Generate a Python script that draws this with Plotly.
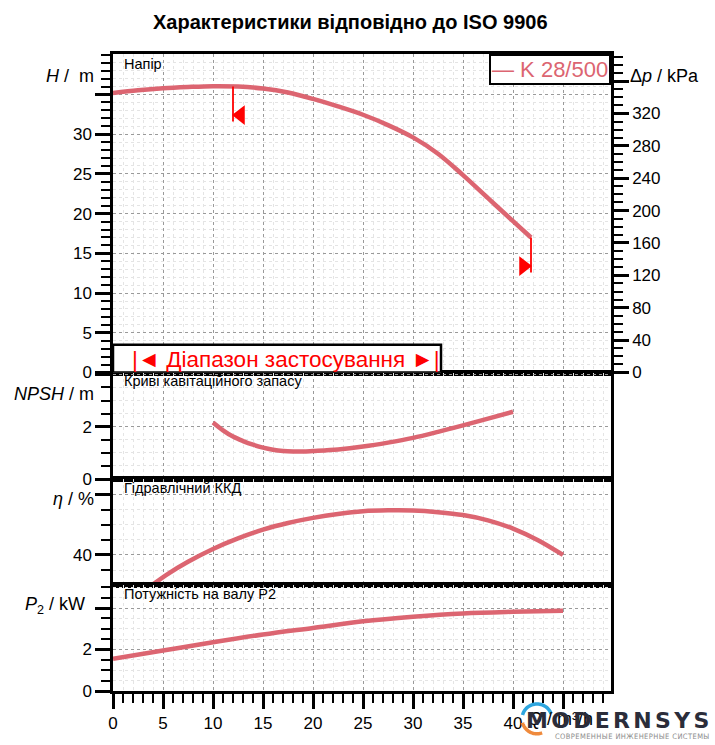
import numpy as np
import plotly.graph_objects as go

# ---------------- data ----------------
Q_H = [0, 2.5, 5, 7.5, 10, 12.5, 15, 17.5, 20, 22.5, 25, 27.5, 30, 32.5, 35, 37.5, 40, 41.8]
H = [35.2, 35.55, 35.8, 35.95, 36.05, 36.0, 35.75, 35.25, 34.45, 33.5, 32.45, 31.15,
     29.6, 27.55, 24.85, 21.95, 19.05, 17.0]

Q_NPSH = [10, 11, 12, 13, 14, 15, 16, 17, 18, 19, 20, 22.5, 25, 27.5, 30, 32.5, 35, 37.5, 40]
NPSH = [2.16, 1.86, 1.62, 1.45, 1.31, 1.20, 1.12, 1.07, 1.05, 1.05, 1.07, 1.13, 1.24,
        1.39, 1.57, 1.80, 2.05, 2.31, 2.57]

Q_ETA = [4, 5.5, 7.5, 10, 12.5, 15, 17.5, 20, 22.5, 25, 27.5, 30, 32.5, 35, 37.5, 40, 42.5, 45]
ETA = [20.5, 27.5, 35.5, 44.0, 51.0, 56.8, 61.2, 64.6, 67.2, 69.0, 69.6, 69.5,
       68.4, 66.5, 63.0, 57.5, 49.8, 40.0]

Q_P2 = [0, 5, 10, 15, 20, 25, 30, 35, 40, 45]
P2 = [1.55, 1.95, 2.35, 2.72, 3.04, 3.36, 3.58, 3.74, 3.82, 3.87]

SERIES_NAME = "K 28/500"
Q_LIMIT_MIN = 12.0   # left limit of the operating range
Q_LIMIT_MAX = 41.8   # right limit of the operating range
KPA_PER_M = 9.81

X_TICKS = [0, 5, 10, 15, 20, 25, 30, 35, 40, 45]
X_LABELS = ["0", "5", "10", "15", "20", "25", "30", "35", "40", ""]
H_TICKS = [0, 5, 10, 15, 20, 25, 30, 35]
H_LABELS = ["0", "5", "10", "15", "20", "25", "30", ""]
KPA_TICKS = [0, 40, 80, 120, 160, 200, 240, 280, 320, 360]
KPA_LABELS = ["0", "40", "80", "120", "160", "200", "240", "280", "320", ""]
NPSH_TICKS = [0, 2, 4]
NPSH_LABELS = ["0", "2", ""]
ETA_TICKS = [40, 80]
ETA_LABELS = ["40", ""]
P2_TICKS = [0, 2, 4]
P2_LABELS = ["0", "2", ""]

# ---------------- style ----------------
CURVE = "#dc6571"
RED = "#ff0000"
FONT = "Liberation Sans, Arial, sans-serif"
W, HGT = 715, 745
L, R, T, B = 113, 104, 54, 51

def px(xp):
    return (xp - L) / (W - L - R)

def py(yp):
    return (HGT - B - yp) / (HGT - T - B)

fig = go.Figure()

line_style = dict(color=CURVE, width=4.5)
fig.add_trace(go.Scatter(x=Q_H, y=H, mode="lines", line=line_style, name=SERIES_NAME,
                         line_shape="spline", xaxis="x", yaxis="y", hoverinfo="skip"))
fig.add_trace(go.Scatter(x=Q_H, y=[h * KPA_PER_M for h in H], mode="lines",
                         line=dict(width=0, color=CURVE), opacity=0, showlegend=False,
                         xaxis="x", yaxis="y5", hoverinfo="skip"))
fig.add_trace(go.Scatter(x=Q_NPSH, y=NPSH, mode="lines", line=line_style, line_shape="spline",
                         xaxis="x2", yaxis="y2", hoverinfo="skip"))
fig.add_trace(go.Scatter(x=Q_ETA, y=ETA, mode="lines", line=line_style, line_shape="spline",
                         xaxis="x3", yaxis="y3", hoverinfo="skip"))
fig.add_trace(go.Scatter(x=Q_P2, y=P2, mode="lines", line=line_style, line_shape="spline",
                         xaxis="x4", yaxis="y4", hoverinfo="skip"))

# operating range markers on the head curve
h_min = float(np.interp(Q_LIMIT_MIN, Q_H, H))
h_max = float(np.interp(Q_LIMIT_MAX, Q_H, H))
for q, h, sym, dx in [(Q_LIMIT_MIN, h_min, "triangle-left", 0.75),
                      (Q_LIMIT_MAX, h_max, "triangle-right", -0.75)]:
    fig.add_trace(go.Scatter(x=[q, q], y=[h, h - 4.4], mode="lines",
                             line=dict(color=RED, width=1.8), xaxis="x", yaxis="y",
                             hoverinfo="skip"))
    fig.add_trace(go.Scatter(x=[q + dx], y=[h - 3.6], mode="markers",
                             marker=dict(symbol=sym, size=17, color=RED, line=dict(width=0)),
                             xaxis="x", yaxis="y", hoverinfo="skip"))

# ---------------- axes ----------------
dom = {
    "y": [py(374), 1.0],
    "y2": [py(481), py(374)],
    "y3": [py(587.3), py(481)],
    "y4": [0.0, py(587.3)],
}
XR = [0, 49.8]

def xax(bottom, anchor):
    d = dict(range=XR, anchor=anchor, showline=True, linecolor="black", linewidth=2.5,
             mirror=True, zeroline=False, tickvals=X_TICKS, ticktext=X_LABELS,
             showgrid=True, gridcolor="#9a9a9a", griddash="dot", gridwidth=1,
             tickfont=dict(family=FONT, size=17, color="black"),
             minor=dict(dtick=1, tick0=0, showgrid=True, gridcolor="#e4e4e4", gridwidth=1,
                        ticks="outside" if bottom else "", ticklen=9, tickwidth=2,
                        tickcolor="black"),
             ticks="outside" if bottom else "", ticklen=15, tickwidth=2.5, tickcolor="black",
             showticklabels=bottom)
    if anchor != "y4":
        d["matches"] = "x4"
    return d

def yax(domain, rng, tickvals, ticktext, mdtick, mtick0=0):
    return dict(domain=domain, range=rng, showline=True, linecolor="black", linewidth=2.5,
                mirror=True, zeroline=False, tickvals=tickvals, ticktext=ticktext,
                showgrid=True, gridcolor="#9a9a9a", griddash="dot", gridwidth=1,
                ticks="outside", ticklen=15, tickwidth=2.5, tickcolor="black",
                tickfont=dict(family=FONT, size=17, color="black"),
                minor=dict(dtick=mdtick, tick0=mtick0, showgrid=True, gridcolor="#e4e4e4",
                           gridwidth=1, ticks="outside", ticklen=9, tickwidth=2,
                           tickcolor="black"))

fig.update_layout(
    width=W, height=HGT, margin=dict(l=L, r=R, t=T, b=B, pad=0),
    plot_bgcolor="white", paper_bgcolor="white", showlegend=False,
    font=dict(family=FONT, color="black"),
    xaxis=xax(False, "y"), xaxis2=xax(False, "y2"), xaxis3=xax(False, "y3"),
    xaxis4=xax(True, "y4"),
    yaxis=yax(dom["y"], [0, 40.1], H_TICKS, H_LABELS, 1),
    yaxis2=yax(dom["y2"], [0, 4.07], NPSH_TICKS, NPSH_LABELS, 0.5),
    yaxis3=yax(dom["y3"], [20.2, 90.4], ETA_TICKS, ETA_LABELS, 10),
    yaxis4=yax(dom["y4"], [0, 5.12], P2_TICKS, P2_LABELS, 0.5),
    yaxis5=dict(overlaying="y", side="right", anchor="x", range=[0, 40.1 * KPA_PER_M],
                showline=True, linecolor="black", linewidth=2.5, showgrid=False,
                zeroline=False, tickvals=KPA_TICKS, ticktext=KPA_LABELS,
                ticks="outside", ticklen=15, tickwidth=2.5, tickcolor="black",
                tickfont=dict(family=FONT, size=17, color="black"),
                minor=dict(dtick=10, tick0=0, ticks="outside", ticklen=9, tickwidth=2,
                           tickcolor="black", showgrid=False)),
)

# ---------------- application range box ----------------
fig.add_shape(type="rect", xref="x", yref="y", x0=0, x1=32.8, y0=0, y1=3.5,
              fillcolor="white", line=dict(color="black", width=2.5), layer="above")

ann = []
ann.append(dict(text="|◄ Діапазон застосування ►|", xref="x", yref="y", x=17.3, y=1.6,
                showarrow=False, font=dict(family=FONT, size=22.5, color=RED),
                xanchor="center", yanchor="middle"))

# title
ann.append(dict(text="<b>Характеристики відповідно до ISO 9906</b>", xref="paper",
                yref="paper", x=px(350), y=py(22), xanchor="center", yanchor="middle",
                showarrow=False, font=dict(family=FONT, size=20, color="black")))

# legend box
ann.append(dict(text="— " + SERIES_NAME, xref="paper", yref="paper", x=1.0, y=1.0,
                xanchor="right", yanchor="top", showarrow=False, bgcolor="white",
                bordercolor="black", borderwidth=2, borderpad=1,
                font=dict(family=FONT, size=22, color=CURVE)))

# panel labels
for txt, ypix in [("Напір", 64), ("Криві кавітаційного запасу", 383),
                  ("Гідравлічний ККД", 490), ("Потужність на валу P2", 597)]:
    ann.append(dict(text=txt, xref="paper", yref="paper", x=px(122), y=py(ypix),
                    xanchor="left", yanchor="middle", showarrow=False,
                    font=dict(family=FONT, size=14.5, color="black")))

# axis titles
for txt, xpix, ypix, anchor in [("<i>H</i> /  m", 96, 76, "right"),
                                ("<i>NPSH</i> / m", 96, 396, "right"),
                                ("<i>η</i> / %", 96, 501, "right"),
                                ("<i>P</i><sub>2</sub> / kW", 87, 608, "right"),
                                ("Δ<i>p</i> / kPa", 628, 76, "left"),
                                ("<i>Q</i> / m³/h", 526, 722, "left")]:
    ann.append(dict(text=txt, xref="paper", yref="paper", x=px(xpix), y=py(ypix),
                    xanchor=anchor, yanchor="middle", showarrow=False,
                    font=dict(family=FONT, size=18, color="black")))

# watermark logo
ann.append(dict(text='<span style="letter-spacing:3.3px">MODERNSYS</span>', xref="paper",
                yref="paper", x=px(524), y=py(724), xanchor="left", yanchor="middle",
                showarrow=False,
                font=dict(family="DejaVu Sans, sans-serif", size=22, color="#2b2d3a",
                          weight="bold")))
ann.append(dict(text='<span style="letter-spacing:0.4px">СОВРЕМЕННЫЕ ИНЖЕНЕРНЫЕ СИСТЕМЫ</span>',
                xref="paper", yref="paper", x=px(553), y=py(740), xanchor="left",
                yanchor="middle", showarrow=False,
                font=dict(family="DejaVu Sans Condensed, sans-serif", size=7.5,
                          color="#8c8c8c")))
fig.update_layout(annotations=ann)

def arc(cx, cy, r, a0, a1):
    ang = np.radians(np.linspace(a0, a1, 30))
    pts = [(px(cx + r * np.cos(a)), py(cy - r * np.sin(a))) for a in ang]
    return "M " + " L ".join(f"{x:.5f},{y:.5f}" for x, y in pts)

fig.add_shape(type="path", xref="paper", yref="paper", path=arc(537, 722, 15, 20, 165),
              line=dict(color="#2ea6df", width=3.5), layer="above")
fig.add_shape(type="path", xref="paper", yref="paper", path=arc(537, 722, 15, 195, 290),
              line=dict(color="#ef8a3c", width=3.5), layer="above")

fig.write_html("out.html", config={"displayModeBar": False},
               post_script="document.body.style.margin='0';")
